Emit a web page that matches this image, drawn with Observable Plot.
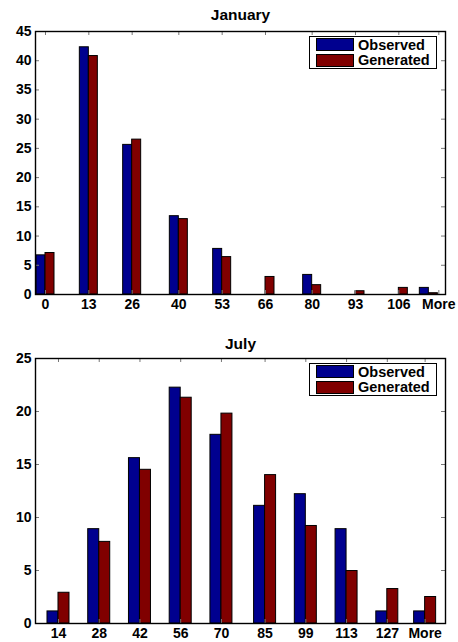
<!DOCTYPE html>
<html><head><meta charset="utf-8">
<script src="https://cdn.jsdelivr.net/npm/d3@7"></script>
<script src="https://cdn.jsdelivr.net/npm/@observablehq/plot@0.6"></script>
<style>
body{margin:0;background:#fff;font-family:"Liberation Sans",Arial,sans-serif}
.chart{position:relative;width:458px;height:321px}
.chart svg{display:block}
.legend{position:absolute;left:309px;width:126px;border:1.5px solid #000;background:#fff;font:bold 14.5px "Liberation Sans",Arial,sans-serif;color:#000}
.row{display:flex;align-items:center;height:15.5px;margin-left:6px}
.sw{width:36px;height:11px;border:1px solid #000;margin-right:4px}
</style>
</head><body><div id="c"></div><script>
// January
const janBins = [0, 13, 26, 40, 53, 66, 80, 93, 106, 115];
const janTicks = [0, 13, 26, 40, 53, 66, 80, 93, 106, 118];
const janLabels = ["0", "13", "26", "40", "53", "66", "80", "93", "106", "More"];
const janObserved = [6.7, 42.3, 25.6, 13.4, 7.8, 0, 3.35, 0, 0, 1.13];
const janGenerated = [7.1, 40.8, 26.5, 12.9, 6.4, 3.0, 1.6, 0.56, 1.13, 0.22];
const janYTicks = [0, 5, 10, 15, 20, 25, 30, 35, 40, 45];
// July
const julBins = [14, 28, 42, 56, 70, 85, 99, 113, 127, 140];
const julTicks = julBins;
const julLabels = ["14", "28", "42", "56", "70", "85", "99", "113", "127", "More"];
const julObserved = [1.14, 8.9, 15.6, 22.25, 17.8, 11.1, 12.2, 8.9, 1.14, 1.14];
const julGenerated = [2.9, 7.7, 14.5, 21.3, 19.8, 14.0, 9.2, 4.95, 3.25, 2.5];
const julYTicks = [0, 5, 10, 15, 20, 25];

const series = ["Observed", "Generated"];
const colors = ["#00008f", "#800000"];

function chart({title, bins, ticks, labels, obs, gen, yTicks, xDomain, yMax, barW, mt, mb, titleDy, legendTop}) {
  const W = 458, H = 321, ml = 35, mr = 13;
  const fh = H - mt - mb, fw = W - ml - mr;
  const data = bins.flatMap((b, i) => [
    {bin: b, s: series[0], v: obs[i]},
    {bin: b, s: series[1], v: gen[i]}
  ]).filter(d => d.v > 0);
  const fmt = d => labels[ticks.indexOf(d)];
  const svg = Plot.plot({
    width: W, height: H,
    marginLeft: ml, marginRight: mr, marginTop: mt, marginBottom: mb,
    style: {background: "#fff", color: "#000", fontFamily: "Liberation Sans, Arial, sans-serif"},
    x: {domain: xDomain},
    y: {domain: [0, yMax]},
    color: {domain: series, range: colors},
    marks: [
      Plot.rectY(data, {
        x1: d => d.s === series[0] ? d.bin - barW : d.bin,
        x2: d => d.s === series[0] ? d.bin : d.bin + barW,
        y: "v", fill: "s", stroke: "#000", strokeWidth: 1
      }),
      Plot.tickX(ticks, {x: d => d, insetTop: fh - 4, stroke: "#777"}),
      Plot.tickX(ticks, {x: d => d, insetBottom: fh - 4, stroke: "#777"}),
      Plot.tickY(yTicks, {y: d => d, insetRight: fw - 4, stroke: "#777"}),
      Plot.tickY(yTicks, {y: d => d, insetLeft: fw - 4, stroke: "#777"}),
      Plot.frame({stroke: "#000", strokeWidth: 1.4}),
      Plot.axisX(ticks, {tickSize: 0, tickPadding: 5, tickFormat: fmt, label: null, fontSize: 14, fontWeight: "bold"}),
      Plot.axisY(yTicks, {tickSize: 0, tickPadding: 4, label: null, fontSize: 14, fontWeight: "bold"}),
      Plot.text([title], {frameAnchor: "top", dy: titleDy, fontSize: 15.5, fontWeight: "bold", lineAnchor: "middle"})
    ]
  });
  const wrap = document.createElement("div");
  wrap.className = "chart";
  wrap.appendChild(svg);
  const lg = document.createElement("div");
  lg.className = "legend";
  lg.style.top = legendTop + "px";
  lg.innerHTML = series.map((s, i) =>
    `<div class="row"><div class="sw" style="background:${colors[i]}"></div><span>${s}</span></div>`).join("");
  wrap.appendChild(lg);
  return wrap;
}

const c = document.getElementById("c");
c.appendChild(chart({
  title: "January", bins: janBins, ticks: janTicks, labels: janLabels,
  obs: janObserved, gen: janGenerated, yTicks: janYTicks,
  xDomain: [-3, 120], yMax: 45, barW: 2.7, mt: 31, mb: 27, titleDy: -16, legendTop: 36
}));
c.appendChild(chart({
  title: "July", bins: julBins, ticks: julTicks, labels: julLabels,
  obs: julObserved, gen: julGenerated, yTicks: julYTicks,
  xDomain: [6.1, 147], yMax: 25, barW: 3.78, mt: 37, mb: 19, titleDy: -14, legendTop: 42
}));
</script></body></html>
